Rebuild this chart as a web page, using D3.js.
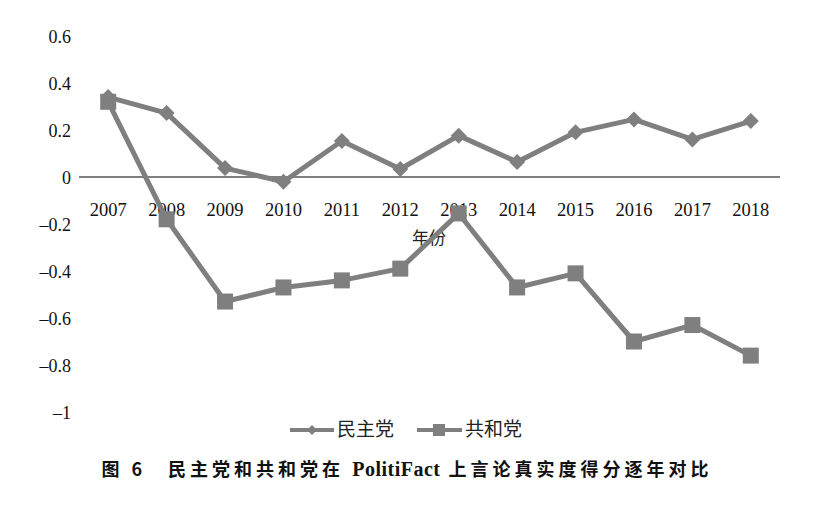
<!DOCTYPE html>
<html><head><meta charset="utf-8">
<script src="https://cdn.jsdelivr.net/npm/d3@7"></script>
<style>body{margin:0;background:#fff;} svg{display:block;}</style>
</head><body>
<svg id="c" width="823" height="511"></svg>
<script>
const years = ["2007","2008","2009","2010","2011","2012","2013","2014","2015","2016","2017","2018"];
const democrat = [0.34,0.272,0.038,-0.02,0.153,0.034,0.176,0.064,0.19,0.245,0.16,0.238];
const republican = [0.32,-0.18,-0.53,-0.47,-0.44,-0.39,-0.155,-0.47,-0.41,-0.70,-0.63,-0.76];
const yTicks = [0.6,0.4,0.2,0,-0.2,-0.4,-0.6,-0.8,-1];
const seriesNames = ["民主党","共和党"];
const xTitle = "年份";
const captionParts = [["图 6","cjk"],["\u3000民主党和共和党在 ","cjk"],["PolitiFact","serif"],[" 上言论真实度得分逐年对比","cjk"]];

const svg = d3.select("#c");
const x = d3.scaleBand().domain(years).range([79,780]);
const y = d3.scaleLinear().domain([-1,0.6]).range([412,36]);
const col = "#7f7f7f";
const serif = "'Liberation Serif','Times New Roman',serif";
const cjk = "'Noto Sans CJK SC',sans-serif";

// y axis labels
const yAxis = d3.axisLeft(y).tickValues(yTicks).tickSize(0).tickPadding(0)
  .tickFormat(d => d===0 ? "0" : (d<0 ? "\u2013" : "") + d3.format("")(Math.abs(d)));
const ga = svg.append("g").attr("transform","translate(71,0)").call(yAxis);
ga.select(".domain").remove();
ga.selectAll("text").attr("font-family",serif).attr("font-size",18).attr("fill","#111").attr("dy","0.35em");

// zero line
svg.append("line").attr("x1",79).attr("x2",780).attr("y1",y(0)).attr("y2",y(0))
  .attr("stroke","#000").attr("stroke-width",1.2);

// x labels
const xAxis = d3.axisBottom(x).tickSize(0).tickPadding(0);
const gx = svg.append("g").attr("transform",`translate(0,${y(0)+33})`).call(xAxis);
gx.select(".domain").remove();
gx.selectAll("text").attr("font-family",serif).attr("font-size",18.5).attr("fill","#111").attr("dy","0.35em");

svg.append("text").attr("x",429).attr("y",239).attr("text-anchor","middle").attr("dominant-baseline","middle")
  .attr("font-family",cjk).attr("font-size",17).attr("fill","#222").text(xTitle);

const line = d3.line().x((d,i)=>x(years[i])+x.bandwidth()/2).y(d=>y(d));

// Democrat
svg.append("path").datum(democrat).attr("d",line).attr("fill","none").attr("stroke",col).attr("stroke-width",5).attr("stroke-linejoin","round");
svg.selectAll(".dm").data(democrat).join("path")
  .attr("d",d3.symbol().type(d3.symbolSquare).size(128))
  .attr("transform",(d,i)=>`translate(${x(years[i])+x.bandwidth()/2},${y(d)}) rotate(45)`)
  .attr("fill",col);

// Republican
svg.append("path").datum(republican).attr("d",line).attr("fill","none").attr("stroke",col).attr("stroke-width",5).attr("stroke-linejoin","round");
svg.selectAll(".sq").data(republican).join("rect")
  .attr("x",(d,i)=>x(years[i])+x.bandwidth()/2-8).attr("y",d=>y(d)-8)
  .attr("width",16).attr("height",16).attr("fill",col);

// legend
const lg = svg.append("g");
lg.append("line").attr("x1",290).attr("x2",334).attr("y1",430).attr("y2",430).attr("stroke",col).attr("stroke-width",4);
lg.append("path").attr("d",d3.symbol().type(d3.symbolSquare).size(50)).attr("transform","translate(312,430) rotate(45)").attr("fill",col);
lg.append("text").attr("x",337).attr("y",431).attr("dominant-baseline","middle").attr("font-family",cjk).attr("font-size",19).attr("fill","#222").text(seriesNames[0]);
lg.append("line").attr("x1",417).attr("x2",462).attr("y1",430).attr("y2",430).attr("stroke",col).attr("stroke-width",4);
lg.append("rect").attr("x",433).attr("y",424).attr("width",12).attr("height",12).attr("fill",col);
lg.append("text").attr("x",465).attr("y",431).attr("dominant-baseline","middle").attr("font-family",cjk).attr("font-size",19).attr("fill","#222").text(seriesNames[1]);

// caption
const cap = svg.append("text").attr("x",407).attr("y",471).attr("text-anchor","middle").attr("dominant-baseline","middle")
  .attr("font-weight","bold").attr("font-size",18).attr("fill","#111");
captionParts.forEach(([t,f]) => {
  cap.append("tspan").attr("font-family", f==="cjk"?cjk:serif)
    .attr("letter-spacing", f==="cjk"?4:0.5).attr("font-size", f==="cjk"?18:20).text(t);
});
</script>
</body></html>
